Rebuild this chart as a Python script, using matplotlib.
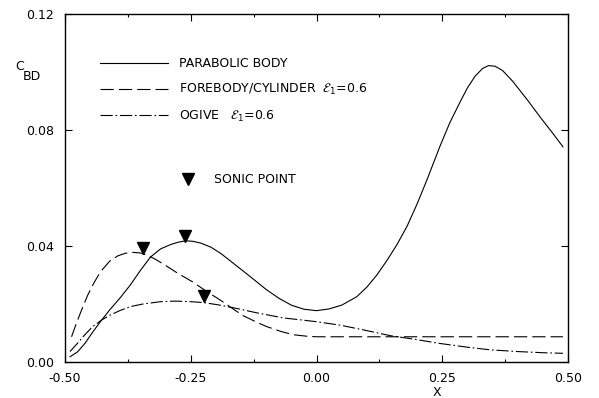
import matplotlib
matplotlib.use("Agg")
import matplotlib.pyplot as plt
from matplotlib.lines import Line2D
from matplotlib.ticker import MultipleLocator, FormatStrFormatter

# curve data
x_parabolic = [-0.49, -0.475, -0.46, -0.445, -0.427, -0.41, -0.39, -0.37, -0.35, -0.33,
               -0.31, -0.29, -0.275, -0.26, -0.245, -0.23, -0.21, -0.19, -0.165, -0.13,
               -0.10, -0.075, -0.05, -0.025, 0.0, 0.025, 0.05, 0.08, 0.10, 0.12,
               0.14, 0.16, 0.18, 0.20, 0.22, 0.245, 0.265, 0.285, 0.30, 0.315,
               0.33, 0.342, 0.355, 0.37, 0.39, 0.42, 0.444, 0.47, 0.49]
y_parabolic = [0.0018, 0.0035, 0.0065, 0.0103, 0.0145, 0.0182, 0.0222, 0.0266, 0.0316, 0.0362,
               0.0390, 0.0405, 0.0413, 0.0418, 0.0416, 0.0410, 0.0396, 0.0374, 0.0340, 0.0292,
               0.0250, 0.0220, 0.0196, 0.0182, 0.0177, 0.0183, 0.0196, 0.0225, 0.0258, 0.0300,
               0.0350, 0.0405, 0.0468, 0.0545, 0.0630, 0.0742, 0.0825, 0.0895, 0.0945, 0.0985,
               0.1012, 0.1022, 0.1020, 0.1005, 0.0968, 0.0902, 0.0846, 0.0788, 0.0742]

x_forebody = [-0.487, -0.476, -0.465, -0.455, -0.444, -0.43, -0.411, -0.395, -0.38, -0.365,
              -0.35, -0.335, -0.32, -0.30, -0.275, -0.245, -0.22, -0.19, -0.165, -0.146,
              -0.12, -0.099, -0.07, -0.046, -0.02, 0.0, 0.1, 0.25, 0.49]
y_forebody = [0.0087, 0.0140, 0.0188, 0.0230, 0.0268, 0.0310, 0.0348, 0.0366, 0.0375, 0.0378,
              0.0376, 0.0367, 0.0354, 0.0333, 0.0305, 0.0275, 0.0245, 0.0212, 0.0182, 0.0160,
              0.0138, 0.0122, 0.0105, 0.0094, 0.0089, 0.0087, 0.0087, 0.0087, 0.0087]

x_ogive = [-0.49, -0.475, -0.46, -0.445, -0.427, -0.41, -0.39, -0.37, -0.345, -0.31,
           -0.28, -0.25, -0.225, -0.195, -0.165, -0.12, -0.066, -0.03, 0.0, 0.047,
           0.09, 0.146, 0.20, 0.245, 0.30, 0.345, 0.40, 0.45, 0.49]
y_ogive = [0.0036, 0.0065, 0.0095, 0.0122, 0.0145, 0.0162, 0.0178, 0.0191, 0.0200, 0.0208,
           0.0210, 0.0208, 0.0205, 0.0197, 0.0187, 0.0170, 0.0152, 0.0145, 0.0139, 0.0127,
           0.0112, 0.0091, 0.0077, 0.0064, 0.0051, 0.0042, 0.0036, 0.0032, 0.0030]

# sonic point markers
sonic_x = [-0.344, -0.261, -0.223]
sonic_y = [0.0392, 0.0436, 0.0226]

labels = ["PARABOLIC BODY",
          r"FOREBODY/CYLINDER  $\mathcal{E}_1$=0.6",
          r"OGIVE   $\mathcal{E}_1$=0.6"]

plt.rcParams['font.family'] = 'DejaVu Sans'
plt.rcParams['mathtext.fontset'] = 'dejavusans'
fs = 9

fig = plt.figure(figsize=(5.99, 3.98), dpi=100)
ax = fig.add_axes([65 / 599, 1 - 362 / 398, 503 / 599, 348 / 398])

lw = 0.8
l1, = ax.plot(x_parabolic, y_parabolic, color='black', lw=lw)
l2, = ax.plot(x_forebody, y_forebody, color='black', lw=lw)
l2.set_dashes([12, 4.5])
l3, = ax.plot(x_ogive, y_ogive, color='black', lw=lw)
l3.set_dashes([11, 2.5, 1.5, 2.5])
ax.plot(sonic_x, sonic_y, linestyle='none', marker='v', color='black', ms=8)

ax.set_xlim(-0.5, 0.5)
ax.set_ylim(0.0, 0.12)
ax.xaxis.set_major_locator(MultipleLocator(0.25))
ax.xaxis.set_minor_locator(MultipleLocator(0.125))
ax.yaxis.set_major_locator(MultipleLocator(0.04))
ax.xaxis.set_major_formatter(FormatStrFormatter('%.2f'))
ax.yaxis.set_major_formatter(FormatStrFormatter('%.2f'))
ax.tick_params(which='both', direction='in', top=True, right=True, width=0.8)
ax.tick_params(which='major', length=5)
ax.tick_params(which='minor', length=2)
ax.tick_params(axis='x', pad=7, labelsize=fs)
ax.tick_params(axis='y', pad=8, labelsize=fs)
for s in ax.spines.values():
    s.set_linewidth(1.0)

ax.set_xlabel("X", fontsize=fs)
ax.xaxis.set_label_coords((437 - 65) / 503, -0.068)

fig.text(15 / 599, 1 - 66 / 398, "C", fontsize=fs, va='center', ha='left')
fig.text(23 / 599, 1 - 76 / 398, "BD", fontsize=fs, va='center', ha='left')

leg = ax.legend([l1, l2, l3], labels, loc='upper left', frameon=False,
                bbox_to_anchor=(100 / 599, 1 - 57 / 398), bbox_transform=fig.transFigure,
                borderpad=0, borderaxespad=0, handlelength=5.4, handletextpad=0.95,
                labelspacing=0.95, fontsize=fs)
ax.add_artist(leg)

sonic_handle = Line2D([], [], linestyle='none', marker='v', color='black', ms=8)
ax.legend([sonic_handle], ["SONIC POINT"], loc='upper left', frameon=False,
          bbox_to_anchor=(182 / 599, 1 - 173 / 398), bbox_transform=fig.transFigure,
          borderpad=0, borderaxespad=0, handlelength=1.0, handletextpad=1.6,
          numpoints=1, fontsize=fs)

fig.savefig("out.png", dpi=100)
